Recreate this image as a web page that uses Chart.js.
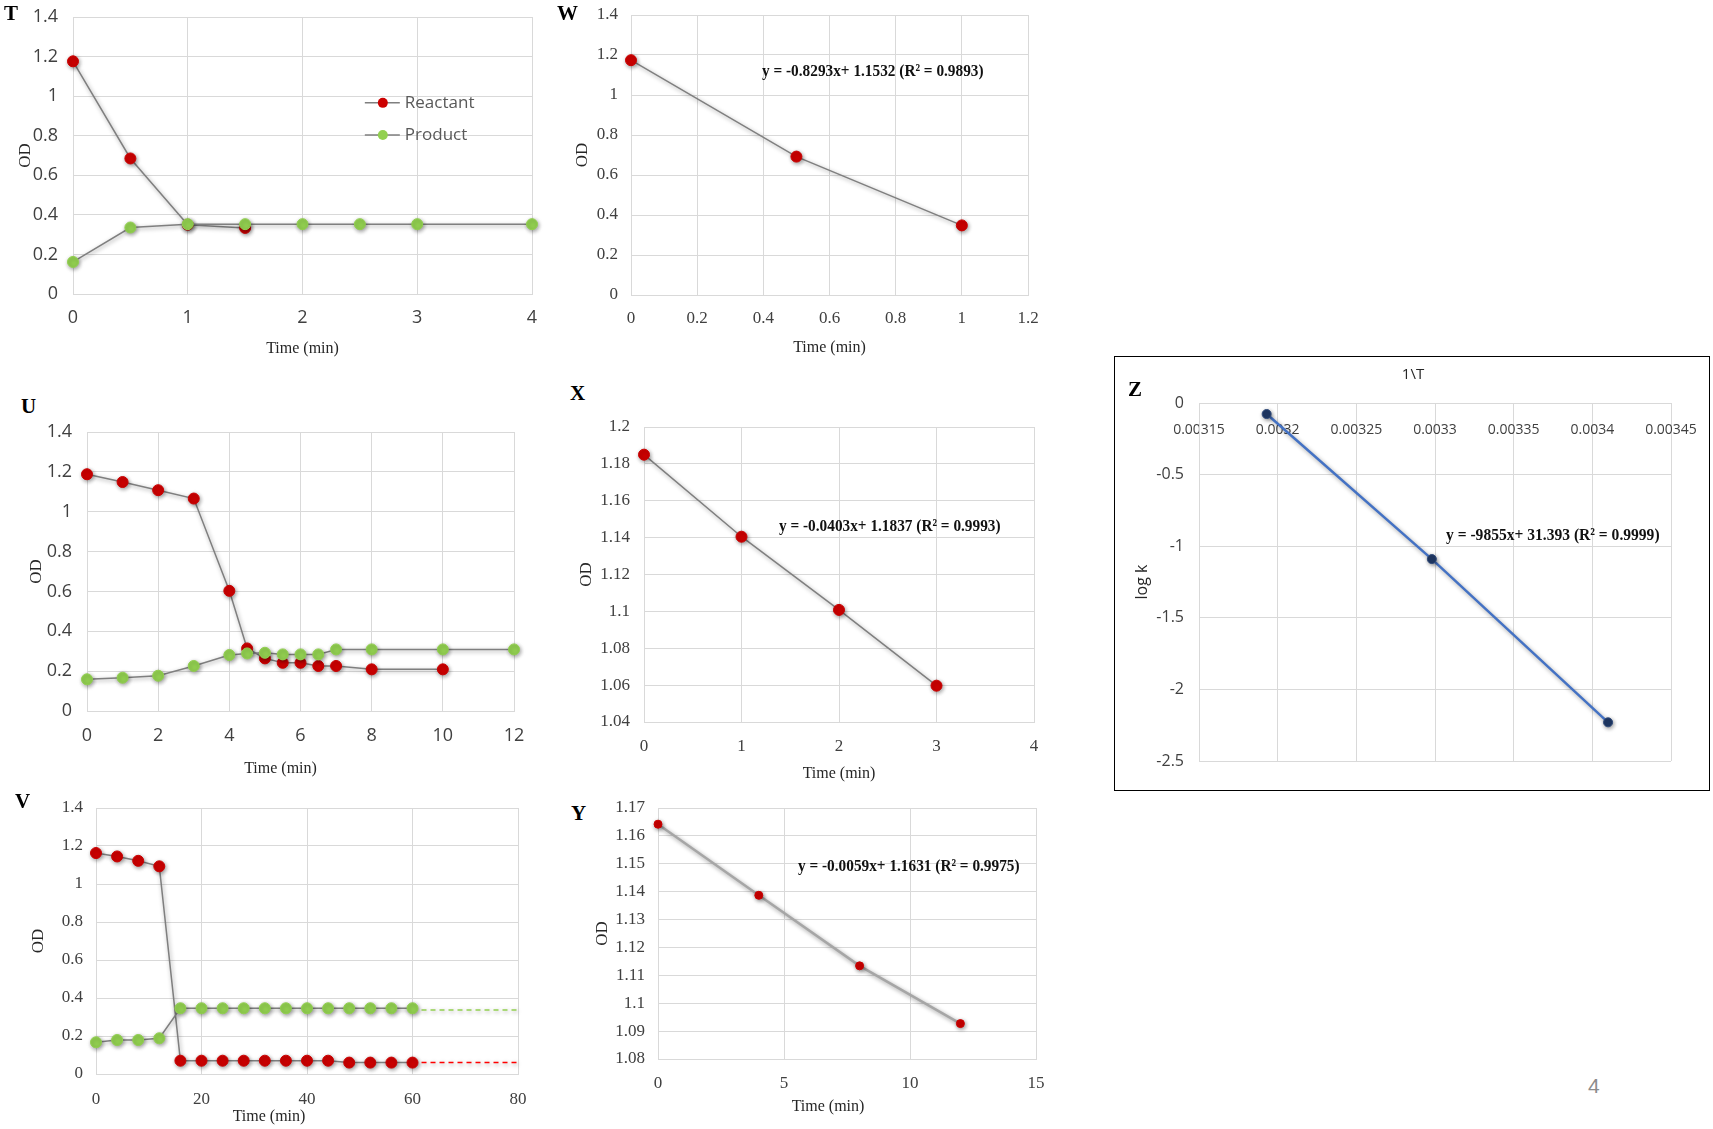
<!DOCTYPE html>
<html>
<head>
<meta charset="utf-8">
<script src="https://cdn.jsdelivr.net/npm/chart.js@4.4.1/dist/chart.umd.min.js"></script>
<style>
  html, body { margin: 0; padding: 0; background: #fff; }
  body { width: 1713px; height: 1129px; position: relative; overflow: hidden; }
  canvas { position: absolute; }
  .tag { position: absolute; font: bold 21px "Liberation Serif", serif; line-height: 1; color: #000; }
  .eq { position: absolute; font: bold 17px "Liberation Serif", serif; line-height: 1; white-space: nowrap; transform-origin: 0 0; color: #111; }
  #zbox { position: absolute; left: 1114px; top: 356px; width: 596px; height: 435px; box-sizing: border-box; border: 1.5px solid #000; }
  #page { position: absolute; left: 1588px; top: 1075px; font: 21px "Liberation Sans", sans-serif; line-height: 1; color: #8c8c8c; }
</style>
</head>
<body>
<div id="zbox"></div>

<canvas id="chartT"></canvas>
<canvas id="chartW"></canvas>
<canvas id="chartU"></canvas>
<canvas id="chartX"></canvas>
<canvas id="chartV"></canvas>
<canvas id="chartY"></canvas>
<canvas id="chartZ"></canvas>

<div class="tag" style="left:4px;top:3px">T</div>
<div class="tag" style="left:557px;top:3px">W</div>
<div class="tag" style="left:21px;top:396px">U</div>
<div class="tag" style="left:570px;top:383px">X</div>
<div class="tag" style="left:15px;top:791px">V</div>
<div class="tag" style="left:571px;top:803px">Y</div>
<div class="tag" style="left:1128px;top:379px">Z</div>

<div class="eq" style="left:762px;top:62px;transform:scaleX(0.9)">y = -0.8293x+ 1.1532 (R² = 0.9893)</div>
<div class="eq" style="left:779px;top:517px;transform:scaleX(0.9)">y = -0.0403x+ 1.1837 (R² = 0.9993)</div>
<div class="eq" style="left:798px;top:857px;transform:scaleX(0.9)">y = -0.0059x+ 1.1631 (R² = 0.9975)</div>
<div class="eq" style="left:1446px;top:526px;transform:scaleX(0.915)">y = -9855x+ 31.393 (R² = 0.9999)</div>

<div id="page">4</div>

<script>
// ---- data ----
// T: 0-4 min
const tReactantTime = [0, 0.5, 1, 1.5];
const tReactant = [1.176, 0.685, 0.35, 0.334];
const tProductTime = [0, 0.5, 1, 1.5, 2, 2.5, 3, 4];
const tProduct = [0.162, 0.336, 0.353, 0.353, 0.353, 0.353, 0.353, 0.353];

// W: first three points of T reactant
const wTime = [0, 0.5, 1];
const wReactant = [1.174, 0.692, 0.348];

// U: 0-12 min
const uReactantTime = [0, 1, 2, 3, 4, 4.5, 5, 5.5, 6, 6.5, 7, 8, 10];
const uReactant = [1.188, 1.149, 1.108, 1.066, 0.603, 0.314, 0.264, 0.242, 0.242, 0.226, 0.226, 0.209, 0.209];
const uProductTime = [0, 1, 2, 3, 4, 4.5, 5, 5.5, 6, 6.5, 7, 8, 10, 12];
const uProduct = [0.159, 0.167, 0.177, 0.226, 0.281, 0.289, 0.292, 0.284, 0.284, 0.284, 0.309, 0.309, 0.309, 0.309];

// X
const xTime = [0, 1, 2, 3];
const xReactant = [1.185, 1.1405, 1.1008, 1.0597];

// V: 0-60 min
const vTime = [0, 4, 8, 12, 16, 20, 24, 28, 32, 36, 40, 44, 48, 52, 56, 60];
const vReactant = [1.163, 1.145, 1.122, 1.093, 0.07, 0.07, 0.07, 0.07, 0.07, 0.07, 0.07, 0.07, 0.06, 0.06, 0.06, 0.06];
const vProduct = [0.167, 0.179, 0.179, 0.188, 0.346, 0.346, 0.346, 0.346, 0.346, 0.346, 0.346, 0.346, 0.346, 0.346, 0.346, 0.346];
const vDashTime = [60, 80];
const vProductDash = [0.337, 0.337];
const vReactantDash = [0.06, 0.06];

// Y
const yTime = [0, 4, 8, 12];
const yReactant = [1.1642, 1.1387, 1.1134, 1.0927];

// Z: log k vs 1/T
const zInvT = [0.003193, 0.003298, 0.00341];
const zLogK = [-0.077, -1.09, -2.23];

// ---- style ----
const SANS = '"Liberation Sans Narrow", "Open Sans", sans-serif';
const SERIF = '"Liberation Serif", "DejaVu Serif", serif';
const GRID = '#d9d9d9';
const TICK = '#404040';
const TITLE = '#262626';
const RED = '#cc0000';
const GREEN = '#92d050';
const LINE = '#7f7f7f';

const fmt = v => String(parseFloat(Number(v).toFixed(6)));

// soft grey glow under lines and markers, like the source
const markerShadow = {
  id: 'markerShadow',
  beforeDatasetsDraw(chart) {
    const c = chart.ctx;
    c.save();
    c.shadowColor = 'rgba(0,0,0,0.4)';
    c.shadowBlur = 4;
    c.shadowOffsetX = 1;
    c.shadowOffsetY = 1.5;
  },
  afterDatasetsDraw(chart) { chart.ctx.restore(); }
};
Chart.register(markerShadow);

// legend drawn inside the plot area (line + marker)
const inlineLegend = {
  id: 'inlineLegend',
  afterDraw(chart, args, opts) {
    if (!opts.labels) return;
    const {ctx, chartArea: a} = chart;
    ctx.save();
    opts.labels.forEach((lbl, i) => {
      const ds = chart.data.datasets.find(d => d.label === lbl);
      const cx = a.left + opts.x * a.width;
      const cy = a.top + (opts.y + i * opts.step) * a.height;
      ctx.strokeStyle = LINE;
      ctx.lineWidth = 1.5;
      ctx.beginPath(); ctx.moveTo(cx - 18, cy); ctx.lineTo(cx + 17, cy); ctx.stroke();
      ctx.fillStyle = ds.pointBackgroundColor;
      ctx.beginPath(); ctx.arc(cx, cy, 5, 0, Math.PI * 2); ctx.fill();
      ctx.fillStyle = '#595959';
      ctx.font = '17px ' + SANS;
      ctx.textBaseline = 'middle';
      ctx.fillText(lbl, cx + 22, cy);
    });
    ctx.restore();
  }
};

function series(label, xs, ys, color, extra) {
  return Object.assign({
    label: label,
    data: xs.map((x, i) => ({x: x, y: ys[i]})),
    showLine: true,
    borderColor: LINE,
    borderWidth: 1.5,
    pointBackgroundColor: color,
    pointBorderColor: color,
    pointBorderWidth: 1,
    pointRadius: 5.5,
    clip: false
  }, extra || {});
}

function axis(o) {
  return {
    type: 'linear',
    position: o.position,
    min: o.min,
    max: o.max,
    // fixed axis size; label overhang is covered by the layout padding instead
    afterFit: s => {
      if (s.isHorizontal()) s.height = o.size; else s.width = o.size;
      s.paddingTop = s.paddingBottom = s.paddingLeft = s.paddingRight = 0;
      // the source sets some axis titles off-centre
      if (o.titleShift && !s._titleShifted) {
        const base = s.drawTitle;
        s.drawTitle = function () {
          this.ctx.save();
          this.ctx.translate(o.titleShift, 0);
          base.call(this);
          this.ctx.restore();
        };
        s._titleShifted = true;
      }
    },
    grid: { color: GRID, lineWidth: 1, drawTicks: false },
    border: { color: GRID, width: 1 },
    ticks: {
      stepSize: o.step, padding: o.pad, mirror: !!o.mirror, color: TICK,
      font: { family: o.tickFamily, size: o.tickSize },
      callback: v => fmt(v), maxRotation: 0, autoSkip: false
    },
    title: {
      display: true, text: o.title, color: TITLE, padding: 0,
      font: { family: o.titleFamily || SERIF, size: o.titleSize }
    }
  };
}

// frame = canvas box + fixed axis sizes so the plot area lands where the source has it
function makeChart(id, f, datasets, xAx, yAx, pluginOpts, plugins) {
  const cv = document.getElementById(id);
  cv.width = f.w; cv.height = f.h;
  cv.style.left = f.x + 'px'; cv.style.top = f.y + 'px';
  return new Chart(cv, {
    type: 'scatter',
    data: { datasets: datasets },
    plugins: plugins || [],
    options: {
      responsive: false,
      animation: false,
      layout: { padding: { left: 0, top: f.pt, right: f.pr, bottom: f.pb || 0 } },
      plugins: Object.assign({ legend: { display: false }, tooltip: { enabled: false } }, pluginOpts || {}),
      scales: { x: xAx, y: yAx }
    }
  });
}

// T
makeChart('chartT', {x: 15, y: 5, w: 537, h: 353, pt: 12, pr: 20},
  [series('Product', tProductTime, tProduct, GREEN),
   series('Reactant', tReactantTime, tReactant, RED)],
  axis({position: 'bottom', min: 0, max: 4, step: 1, size: 64, pad: 13, tickFamily: SANS, tickSize: 18, title: 'Time (min)', titleSize: 16}),
  axis({position: 'left', min: 0, max: 1.4, step: 0.2, size: 58, pad: 15, tickFamily: SANS, tickSize: 18, title: 'OD', titleSize: 17}),
  { inlineLegend: { labels: ['Reactant', 'Product'], x: 0.675, y: 0.31, step: 0.116 } },
  [inlineLegend]);

// W
makeChart('chartW', {x: 572, y: 3, w: 478, h: 354, pt: 12, pr: 22},
  [series('Reactant', wTime, wReactant, RED)],
  axis({position: 'bottom', min: 0, max: 1.2, step: 0.2, size: 62, pad: 13, tickFamily: SERIF, tickSize: 17, title: 'Time (min)', titleSize: 16}),
  axis({position: 'left', min: 0, max: 1.4, step: 0.2, size: 59, pad: 13, tickFamily: SERIF, tickSize: 17, title: 'OD', titleSize: 17}));

// U
makeChart('chartU', {x: 26, y: 420, w: 508, h: 358, pt: 12, pr: 20},
  [series('Product', uProductTime, uProduct, GREEN),
   series('Reactant', uReactantTime, uReactant, RED)],
  axis({position: 'bottom', min: 0, max: 12, step: 2, size: 67, pad: 14, tickFamily: SANS, tickSize: 18, title: 'Time (min)', titleSize: 16, titleShift: -20}),
  axis({position: 'left', min: 0, max: 1.4, step: 0.2, size: 61, pad: 15, tickFamily: SANS, tickSize: 18, title: 'OD', titleSize: 17}));

// X
makeChart('chartX', {x: 576, y: 415, w: 478, h: 368, pt: 12, pr: 20},
  [series('Reactant', xTime, xReactant, RED)],
  axis({position: 'bottom', min: 0, max: 4, step: 1, size: 61, pad: 14, tickFamily: SERIF, tickSize: 17, title: 'Time (min)', titleSize: 16}),
  axis({position: 'left', min: 1.04, max: 1.2, step: 0.02, size: 68, pad: 14, tickFamily: SERIF, tickSize: 17, title: 'OD', titleSize: 17}));

// V
makeChart('chartV', {x: 28, y: 796, w: 510, h: 330, pt: 12, pr: 20},
  [series('Product', vTime, vProduct, GREEN),
   series('Reactant', vTime, vReactant, RED),
   series('Product trend', vDashTime, vProductDash, GREEN, {borderColor: GREEN, borderDash: [5, 4], pointRadius: 0}),
   series('Reactant trend', vDashTime, vReactantDash, '#ff0000', {borderColor: '#ff0000', borderDash: [5, 4], pointRadius: 0})],
  axis({position: 'bottom', min: 0, max: 80, step: 20, size: 52, pad: 15, tickFamily: SERIF, tickSize: 17, title: 'Time (min)', titleSize: 16, titleShift: -38}),
  axis({position: 'left', min: 0, max: 1.4, step: 0.2, size: 68, pad: 13, tickFamily: SERIF, tickSize: 17, title: 'OD', titleSize: 17}));

// Y
makeChart('chartY', {x: 592, y: 796, w: 464, h: 320, pt: 12, pr: 20},
  [series('Reactant', yTime, yReactant, RED, {borderColor: '#a6a6a6', borderWidth: 2.5, pointRadius: 4})],
  axis({position: 'bottom', min: 0, max: 15, step: 5, size: 57, pad: 14, tickFamily: SERIF, tickSize: 17, title: 'Time (min)', titleSize: 16, titleShift: -19}),
  axis({position: 'left', min: 1.08, max: 1.17, step: 0.01, size: 66, pad: 13, tickFamily: SERIF, tickSize: 17, title: 'OD', titleSize: 17}));

// Z: x axis sits on top, its labels mirrored down into the plot
makeChart('chartZ', {x: 1133, y: 366, w: 573, h: 407, pt: 0, pr: 35, pb: 12},
  [series('log k', zInvT, zLogK, '#1f3864', {borderColor: '#4472c4', borderWidth: 2.5, pointRadius: 4.5, pointBorderColor: '#2f4a7a'})],
  axis({position: 'top', min: 0.00315, max: 0.00345, step: 0.00005, size: 37, pad: 19, mirror: true, tickFamily: SANS, tickSize: 14, title: '1\\T', titleFamily: SANS, titleSize: 15, titleShift: -22}),
  axis({position: 'left', min: -2.5, max: 0, step: 0.5, size: 66, pad: 15, tickFamily: SANS, tickSize: 16, title: 'log k', titleFamily: SANS, titleSize: 16}));
</script>
</body>
</html>
